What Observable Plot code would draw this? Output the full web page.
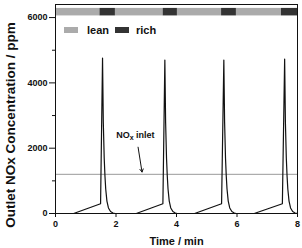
<!DOCTYPE html>
<html>
<head>
<meta charset="utf-8">
<script src="https://cdn.jsdelivr.net/npm/d3@7"></script>
<script src="https://cdn.jsdelivr.net/npm/@observablehq/plot@0.6"></script>
<style>
  html, body { margin: 0; padding: 0; background: #fff; }
  #wrap { position: relative; width: 302px; height: 248px; font-family: "Liberation Sans", Arial, sans-serif; font-weight: bold; }
  .sw { position: absolute; width: 14px; height: 6px; }
  .lt { position: absolute; font-size: 11px; line-height: 12px; color: #111; }
</style>
</head>
<body>
<div id="wrap"></div>
<script>
// ---- data ----
const leanStart = [0, 1.98, 4.03, 5.98];
const leanEnd   = [1.47, 3.56, 5.49, 7.47];
const richStart = [1.47, 3.56, 5.49, 7.47];
const richEnd   = [1.98, 4.03, 5.98, 8.0];

const timeMin = [
  0, 0.6, 1.49, 1.555, 1.58, 1.61, 1.635, 1.66, 1.70, 1.75, 1.82, 1.90, 1.97,
  2.67, 3.55, 3.615, 3.64, 3.67, 3.695, 3.72, 3.76, 3.81, 3.88, 3.96, 4.03,
  4.60, 5.49, 5.565, 5.59, 5.62, 5.645, 5.67, 5.71, 5.76, 5.83, 5.91, 5.975,
  6.57, 7.50, 7.575, 7.60, 7.63, 7.655, 7.68, 7.72, 7.77, 7.84, 7.92, 8.0
];
const noxPpm = [
  0, 0, 300, 4760, 2800, 1700, 1150, 750, 380, 170, 60, 15, 0,
  0, 300, 4700, 2800, 1700, 1150, 750, 380, 170, 60, 15, 0,
  0, 300, 4700, 2800, 1700, 1150, 750, 380, 170, 60, 15, 0,
  0, 300, 4730, 2800, 1700, 1150, 750, 380, 170, 60, 15, 5
];
const inletNOx = 1200;
const yMajor = [0, 2000, 4000, 6000];
const yMinor = [1000, 3000, 5000];
const xTicks = [0, 2, 4, 6, 8];
const legendLabels = ["lean", "rich"];
const yTitle = "Outlet NOx Concentration / ppm";
const xTitle = "Time / min";
const noteText = "NOx inlet";

// ---- build ----
const curve = timeMin.map((t, i) => ({t, nox: noxPpm[i]}));
const lean = leanStart.map((s, i) => ({s, e: leanEnd[i]}));
const rich = richStart.map((s, i) => ({s, e: richEnd[i]}));

const chart = Plot.plot({
  width: 302, height: 248,
  marginLeft: 55, marginRight: 5, marginTop: 4, marginBottom: 35,
  x: {domain: [0, 8]},
  y: {domain: [0, 6400]},
  style: {fontFamily: "'Liberation Sans', Arial, sans-serif", fontWeight: "bold", background: "white", color: "#111"},
  marks: [
    Plot.rect(lean, {x1: "s", x2: "e", y1: 6050, y2: 6280, fill: "#ababab"}),
    Plot.rect(rich, {x1: "s", x2: "e", y1: 6050, y2: 6280, fill: "#333333"}),
    Plot.ruleY([inletNOx], {stroke: "#9a9a9a", strokeWidth: 1}),
    Plot.line(curve, {x: "t", y: "nox", stroke: "#111", strokeWidth: 1.2}),
    Plot.frame({stroke: "#111"}),
    Plot.axisY(yMajor, {tickSize: 6, tickPadding: 2, fontSize: 9, tickFormat: d => String(d), label: null}),
    Plot.axisY(yMinor, {tickSize: 3, tickFormat: () => "", label: null}),
    Plot.axisX(xTicks, {tickSize: 4, tickPadding: 3, fontSize: 9, tickFormat: d => String(d), label: null}),
    Plot.text([noteText], {x: 2.64, y: 2390, text: d => d, fontSize: 9, textAnchor: "middle", lineAnchor: "middle"}),
    Plot.arrow([0], {x1: 2.73, y1: 2030, x2: 2.86, y2: 1270, stroke: "#111", strokeWidth: 1, headLength: 5}),
    Plot.text([yTitle], {frameAnchor: "left", dx: -45, dy: 16, rotate: -90, textAnchor: "middle", lineAnchor: "middle", text: d => d, fontSize: 13.5}),
    Plot.text([xTitle], {frameAnchor: "bottom", dy: 28, text: d => d, fontSize: 11, lineAnchor: "middle"})
  ]
});

// subscript in annotation
d3.select(chart).selectAll("text").each(function() {
  if (this.textContent === noteText) {
    const el = d3.select(this);
    el.text(null);
    el.append("tspan").text("NO");
    el.append("tspan").attr("dy", 2).attr("font-size", 7).text("x");
    el.append("tspan").attr("dy", -2).text(" inlet");
  }
});

const wrap = document.getElementById("wrap");
wrap.appendChild(chart);

// legend overlay
const colors = ["#ababab", "#333333"];
const swLeft = [64, 115], txLeft = [87, 136];
legendLabels.forEach((lab, i) => {
  const sw = document.createElement("div");
  sw.className = "sw";
  sw.style.left = swLeft[i] + "px"; sw.style.top = "27px"; sw.style.background = colors[i];
  wrap.appendChild(sw);
  const tx = document.createElement("div");
  tx.className = "lt";
  tx.style.left = txLeft[i] + "px"; tx.style.top = "24px";
  tx.textContent = lab;
  wrap.appendChild(tx);
});
</script>
</body>
</html>
